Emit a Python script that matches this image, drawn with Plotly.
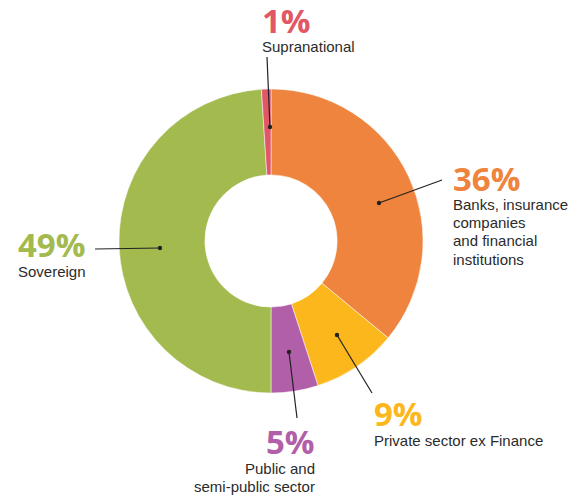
import plotly.graph_objects as go

W, H = 584, 497

# slice data, clockwise from 12 o'clock
categories = ["Banks, insurance companies and financial institutions",
              "Private sector ex Finance",
              "Public and semi-public sector",
              "Sovereign",
              "Supranational"]
shares = [36, 9, 5, 49, 1]
colors = ["#EE843D", "#FBB71B", "#B15FA8", "#A3BA4F", "#E15766"]

# label texts
pct_labels = ["36%", "9%", "5%", "49%", "1%"]
desc_lines = [["Banks, insurance", "companies", "and financial", "institutions"],
              ["Private sector ex Finance"],
              ["Public and", "semi-public sector"],
              ["Sovereign"],
              ["Supranational"]]


def px(x):
    return x / W


def py(y):
    return 1 - y / H


cx, cy, r = 271, 241, 152

fig = go.Figure(go.Pie(
    values=shares,
    labels=categories,
    marker=dict(colors=colors, line=dict(color="white", width=0.5)),
    hole=0.435,
    sort=False,
    direction="clockwise",
    rotation=0,
    textinfo="none",
    hoverinfo="skip",
    showlegend=False,
    domain=dict(x=[px(cx - r), px(cx + r)], y=[py(cy + r), py(cy - r)]),
))

# label placement: (anchor x, percent center y, align)
label_pos = [
    (452, 178, "left"),
    (373, 413, "left"),
    (316, 441, "right"),
    (17, 244, "left"),
    (261, 20, "left"),
]
# leader lines: dot on slice -> outer end
leaders = [
    ((379, 203), (442, 180)),
    ((337, 335), (372, 393)),
    ((289, 352), (297, 418)),
    ((160, 248), (95, 249)),
    ((270, 127), (267, 57)),
]

text_col = "#2b2b2b"
annotations = []
for i, (x, y, al) in enumerate(label_pos):
    annotations.append(dict(
        x=px(x), y=py(y), xref="paper", yref="paper",
        xanchor=al, yanchor="middle", showarrow=False,
        text="<b>" + pct_labels[i] + "</b>",
        font=dict(family="Open Sans", size=33, color=colors[i]),
        borderpad=0,
    ))
    for j, line in enumerate(desc_lines[i]):
        annotations.append(dict(
            x=px(x), y=py(y + 27 + j * 18), xref="paper", yref="paper",
            xanchor=al, yanchor="middle", showarrow=False,
            text=line,
            font=dict(family="Liberation Sans", size=15, color=text_col),
            borderpad=0,
        ))

shapes = []
for (d, e) in leaders:
    shapes.append(dict(type="line", xref="paper", yref="paper",
                       x0=px(d[0]), y0=py(d[1]), x1=px(e[0]), y1=py(e[1]),
                       line=dict(color="#222222", width=1.2)))
    shapes.append(dict(type="circle", xref="paper", yref="paper",
                       xsizemode="pixel", ysizemode="pixel",
                       xanchor=px(d[0]), yanchor=py(d[1]),
                       x0=-2.2, x1=2.2, y0=-2.2, y1=2.2,
                       fillcolor="#222222", line=dict(width=0)))

fig.update_layout(
    width=W, height=H,
    margin=dict(l=0, r=0, t=0, b=0),
    paper_bgcolor="white",
    plot_bgcolor="white",
    annotations=annotations,
    shapes=shapes,
)

# drop the default body margin so the figure sits at the window's corner
fig.write_html("out.html", config={"displayModeBar": False},
               post_script="document.body.style.margin='0';")
